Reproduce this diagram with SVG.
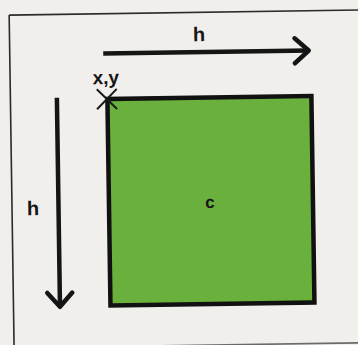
<svg xmlns="http://www.w3.org/2000/svg" width="358" height="345" viewBox="0 0 358 345">
  <style>
    .frame { stroke: #2b2b2b; stroke-width: 1.6; fill: none; }
    .conn { stroke: #151515; stroke-width: 4.5; fill: none; }
    .lbl { font-family: "Liberation Sans", Arial, sans-serif; font-weight: bold; fill: #161616; text-anchor: middle; }
    .sq { fill: #69b13c; stroke: #111; stroke-width: 4.5; }
    .cross { stroke: #1a1a1a; stroke-width: 2; fill: none; }
  </style>
  <defs>
    <marker id="chev" markerUnits="userSpaceOnUse" markerWidth="40" markerHeight="40" viewBox="-20 -20 40 40" refX="0" refY="0" orient="auto">
      <path d="M-14,-12.5 L0,0 L-14,12.5" fill="none" stroke="#151515" stroke-width="4.5" stroke-linejoin="round" stroke-linecap="round"/>
    </marker>
  </defs>
  <rect width="358" height="345" fill="#f0efec"/>
  <g transform="rotate(-0.85 179 172)">
    <g id="frame">
      <line class="frame" x1="11.5" y1="12.6" x2="380" y2="12.6"/>
      <line class="frame" x1="11.5" y1="12.6" x2="11.5" y2="360"/>
      <line class="frame" x1="11.5" y1="345.5" x2="380" y2="345.5" style="stroke:#6a6a6a"/>
    </g>
    <g id="node-c">
      <rect class="sq" x="108.5" y="98" width="204" height="206.5"/>
      <text class="lbl" x="209.5" y="208.5" font-size="17">c</text>
    </g>
    <g id="node-xy">
      <path class="cross" d="M98,88 L118,108 M118,88 L98,108"/>
      <text class="lbl" x="94" y="83" font-size="19" style="text-anchor:start">x,y</text>
    </g>
    <g id="connectors">
      <line class="conn" x1="105" y1="52.5" x2="310.5" y2="52.5" marker-end="url(#chev)"/>
      <line class="conn" x1="58" y1="96" x2="58" y2="305" marker-end="url(#chev)"/>
    </g>
    <g id="label-h-top">
      <text class="lbl" x="201" y="41.5" font-size="20">h</text>
    </g>
    <g id="label-h-left">
      <text class="lbl" x="32.5" y="213" font-size="20">h</text>
    </g>
  </g>
</svg>
